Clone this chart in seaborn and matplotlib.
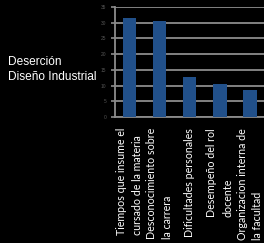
import numpy as np
import pandas as pd
import seaborn as sns
import matplotlib as mpl
import matplotlib.pyplot as plt

# === DATA ===
categories = [
    'Tiempos que insume el\ncursado de la materia',
    'Desconocimiento sobre\nla carrera',
    'Dificultades personales',
    'Desempeño del rol\ndocente',
    'Organizacion interna de\nla facultad',
]
values = [31.5, 30.5, 12.7, 10.5, 8.6]
yticks = [0, 5, 10, 15, 20, 25, 30, 35]
title_text = 'Deserción\nDiseño Industrial'

df = pd.DataFrame({'Motivo': categories, 'Valor': values})

# === FIGURE SETUP ===
sns.set_style('dark')
plt.rcParams['font.family'] = ['Lato', 'DejaVu Sans']
fig = plt.figure(figsize=(2.64, 2.43), dpi=100, facecolor='black')
ax = fig.add_axes([0.434, 0.519, 0.57, 0.452])
ax.set_facecolor('black')

sns.barplot(data=df, x='Motivo', y='Valor', color='#21508A',
            width=0.44, saturation=1, linewidth=0, edgecolor='none',
            ax=ax, zorder=3)

ax.set_xlim(-0.5, 4.5)
ax.set_ylim(0, 35)
ax.set_yticks(yticks)
ax.set_yticklabels([str(t) for t in yticks], fontsize=3.5, color='#555555',
                   family='Liberation Sans')
ax.yaxis.grid(True, color='#8c8c8c', linewidth=1.3, zorder=0)
ax.xaxis.grid(False)
ax.tick_params(axis='y', length=3, width=1.2, color='#8c8c8c', pad=3, left=True)
ax.tick_params(axis='x', length=0, pad=8)
ax.set_xticks(range(len(categories)))
ax.set_xticklabels(categories, rotation=90, fontsize=7.7, color='white')
for lbl in ax.get_xticklabels():
    lbl.set_va('top')
    lbl.set_ha('center')
    lbl.set_multialignment('left')
    lbl.set_linespacing(1.55)

for side in ['top', 'right']:
    ax.spines[side].set_visible(False)
for side in ['left', 'bottom']:
    ax.spines[side].set_visible(True)
    ax.spines[side].set_color('#8c8c8c')
    ax.spines[side].set_linewidth(1.3)

ax.set_xlabel('')
ax.set_ylabel('')

fig.text(0.03, 0.715, title_text, color='white', fontsize=8.6,
         family='Liberation Sans', va='center', ha='left', linespacing=1.35)

fig.savefig('out.png', dpi=100, facecolor='black')
